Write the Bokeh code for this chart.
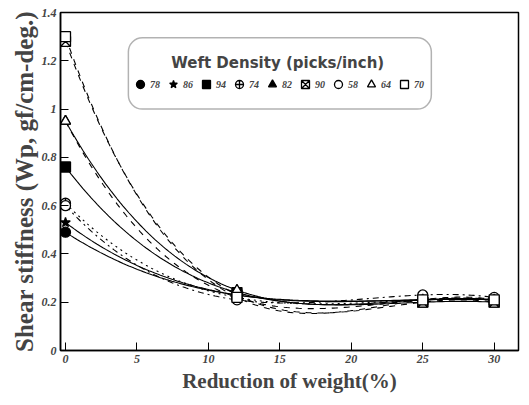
import numpy as np
from bokeh.plotting import figure
from bokeh.models import Range1d, FixedTicker, BoxAnnotation, Label, Legend
from bokeh.embed import file_html
from bokeh.resources import INLINE

# Data
reduction = [0, 12, 25, 30]
densities = ["78", "86", "94", "74", "82", "90", "58", "64", "70"]
w78 = [0.49, 0.23, 0.21, 0.21]
w86 = [0.53, 0.23, 0.21, 0.21]
w94 = [0.76, 0.24, 0.20, 0.20]
w74 = [0.61, 0.22, 0.21, 0.21]
w82 = [0.95, 0.22, 0.21, 0.21]
w90 = [1.28, 0.23, 0.20, 0.20]
w58 = [0.60, 0.21, 0.23, 0.22]
w64 = [0.95, 0.25, 0.21, 0.21]
w70 = [1.30, 0.22, 0.21, 0.21]
series = [w78, w86, w94, w74, w82, w90, w58, w64, w70]

x_ticks = [0, 5, 10, 15, 20, 25, 30]
y_ticks = [0, 0.2, 0.4, 0.6, 0.8, 1.0, 1.2, 1.4]
y_tick_labels = {0: "0", 0.2: "0.2", 0.4: "0.4", 0.6: "0.6", 0.8: "0.8", 1.0: "1", 1.2: "1.2", 1.4: "1.4"}

markers = ["circle", "star", "square", "circle_cross", "triangle", "square_x", "circle", "triangle", "square"]
filled = [True, True, True, False, True, False, False, False, False]
dashes = ["solid", "solid", "solid", "dotted", "dashed", "dashed", "dashdot", "solid", "dashed"]

p = figure(width=521, height=397, output_backend="svg", toolbar_location=None,
           x_range=Range1d(-0.35, 31.7), y_range=Range1d(0, 1.4),
           min_border_left=60, min_border_right=3, min_border_top=12, min_border_bottom=47)
p.grid.visible = False
p.outline_line_color = "black"
p.outline_line_width = 1.5
p.background_fill_color = "white"

for ax in (p.xaxis[0], p.yaxis[0]):
    ax.axis_line_width = 1.5
    ax.major_tick_in = 8
    ax.major_tick_out = 0
    ax.minor_tick_line_color = None
    ax.major_label_text_font = "Liberation Serif"
    ax.major_label_text_font_style = "bold italic"
    ax.major_label_text_font_size = "12px"
    ax.axis_label_text_font = "Liberation Serif"
    ax.axis_label_text_font_style = "bold"

p.xaxis.axis_label_text_font_size = "21px"
p.yaxis.axis_label_text_font_size = "25px"
p.xaxis.major_label_standoff = 4
p.yaxis.major_label_standoff = 4
p.xaxis.ticker = FixedTicker(ticks=x_ticks)
p.yaxis.ticker = FixedTicker(ticks=y_ticks)
p.yaxis.major_label_overrides = y_tick_labels
p.xaxis.axis_label = "Reduction of weight(%)"
p.yaxis.axis_label = "Shear stiffness (Wp, gf/cm-deg.)"
p.xaxis.axis_label_standoff = 3
p.yaxis.axis_label_standoff = 1

xs_fine = np.linspace(0, 30, 150)
items = []
for name, ys, m, f, d in zip(densities, series, markers, filled, dashes):
    coef = np.polyfit(reduction, ys, 3)
    p.line(xs_fine, np.polyval(coef, xs_fine), line_color="black", line_width=1.1, line_dash=d)
    r = p.scatter(reduction, ys, marker=m, size=10, line_color="black", line_width=1.3,
                  fill_color="black" if f else "white")
    items.append((name, [r]))

box = BoxAnnotation(left=4.4, right=25.6, bottom=1.0, top=1.295, fill_color="white", fill_alpha=1.0,
                    line_color="black", line_width=1.5, border_radius=14)
p.add_layout(box)
p.add_layout(Label(x=14.85, y=1.19, text="Weft Density (picks/inch)", text_align="center",
                   text_baseline="middle",
                   text_font="DejaVu Sans", text_font_style="bold", text_font_size="15px"))

legend = Legend(items=items, orientation="horizontal", location=(70, 256),
                border_line_alpha=0, background_fill_alpha=0, padding=0, margin=0,
                spacing=3, glyph_width=20, glyph_height=20, label_standoff=-3, label_width=10,
                label_text_font="Liberation Serif", label_text_font_style="bold italic",
                label_text_font_size="10px", label_height=20)
p.add_layout(legend, "center")

open("out.html", "w").write(file_html(p, INLINE))
